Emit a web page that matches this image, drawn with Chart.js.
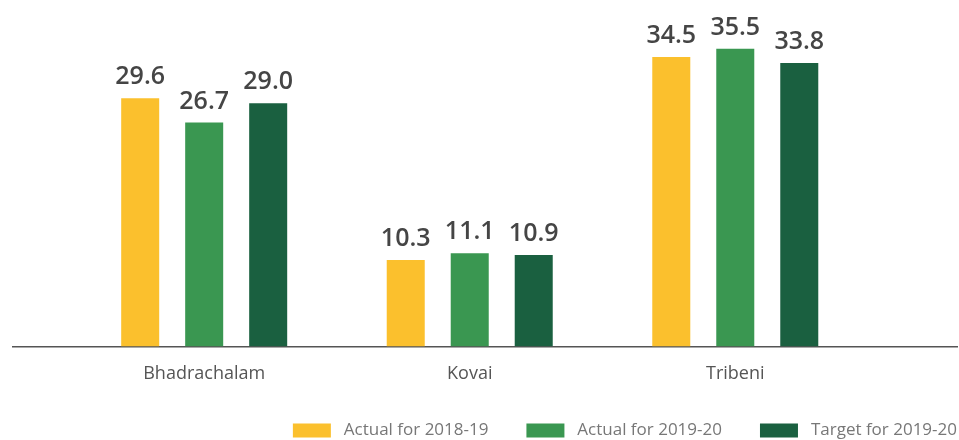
<!DOCTYPE html>
<html>
<head>
<meta charset="utf-8">
<script src="https://cdn.jsdelivr.net/npm/chart.js@4.4.0/dist/chart.umd.min.js"></script>
<style>
    html, body { margin: 0; padding: 0; background: #fff; }
    #wrap { width: 959px; height: 440px; }
</style>
</head>
<body>
<div id="wrap"><canvas id="plantChart"></canvas></div>
<script>
const categories = ['Bhadrachalam', 'Kovai', 'Tribeni'];
const seriesNames = ['Actual for 2018-19', 'Actual for 2019-20', 'Target for 2019-20'];
const actual1819 = [29.6, 10.3, 34.5];
const actual1920 = [26.7, 11.1, 35.5];
const target1920 = [29.0, 10.9, 33.8];
const seriesColors = ['#FBC02D', '#3A9751', '#1A6040'];

const fontFamily = '"Open Sans", "Noto Sans", sans-serif';

function toPoints(values) {
    return values.map((v, i) => ({ x: i, y: v }));
}

// value labels above each bar
const valueLabels = {
    id: 'valueLabels',
    afterDatasetsDraw(chart) {
        const ctx = chart.ctx;
        ctx.save();
        ctx.font = '600 25px ' + fontFamily;
        ctx.fillStyle = '#454545';
        ctx.textAlign = 'center';
        ctx.textBaseline = 'alphabetic';
        chart.data.datasets.forEach((ds, di) => {
            chart.getDatasetMeta(di).data.forEach((bar, i) => {
                ctx.fillText(ds.data[i].y.toFixed(1), bar.x, bar.y - 14);
            });
        });
        ctx.restore();
    }
};

// legend box: push to the right edge, let it reach up so its row sits at ~431
const legendShift = {
    id: 'legendShift',
    afterLayout(chart) {
        const lg = chart.legend;
        lg.left += 38; lg.right += 38;
        lg.top = chart.height - 56;
        lg.bottom = chart.height;
        lg.height = 56;
    }
};

new Chart(document.getElementById('plantChart').getContext('2d'), {
    type: 'bar',
    data: {
        datasets: [
            { label: seriesNames[0], data: toPoints(actual1819), backgroundColor: seriesColors[0] },
            { label: seriesNames[1], data: toPoints(actual1920), backgroundColor: seriesColors[1] },
            { label: seriesNames[2], data: toPoints(target1920), backgroundColor: seriesColors[2] }
        ]
    },
    options: {
        responsive: true,
        maintainAspectRatio: false,
        animation: false,
        layout: { padding: { left: 13, right: 2, top: 11, bottom: 0 } },
        datasets: {
            bar: { categoryPercentage: 0.723, barPercentage: 0.594 }
        },
        scales: {
            x: {
                type: 'linear',
                offset: false,
                min: -0.72,
                max: 2.835,
                afterBuildTicks(scale) {
                    scale.ticks = categories.map((c, i) => ({ value: i }));
                },
                grid: { display: false, drawTicks: false },
                border: { display: true, color: '#555', width: 1.5 },
                ticks: {
                    padding: 17,
                    color: '#555',
                    font: { family: fontFamily, size: 18 },
                    callback: (v) => categories[v]
                }
            },
            y: {
                display: false,
                min: 0,
                max: 40
            }
        },
        plugins: {
            tooltip: { enabled: false },
            legend: {
                position: 'bottom',
                align: 'end',
                maxHeight: 38,
                labels: {
                    boxWidth: 38,
                    boxHeight: 14,
                    padding: 38,
                    color: '#777',
                    font: { family: fontFamily, size: 17 },
                    generateLabels(chart) {
                        return Chart.defaults.plugins.legend.labels.generateLabels(chart)
                            .map(l => ({ ...l, text: ' ' + l.text }));
                    }
                }
            }
        }
    },
    plugins: [valueLabels, legendShift]
});
</script>
</body>
</html>
